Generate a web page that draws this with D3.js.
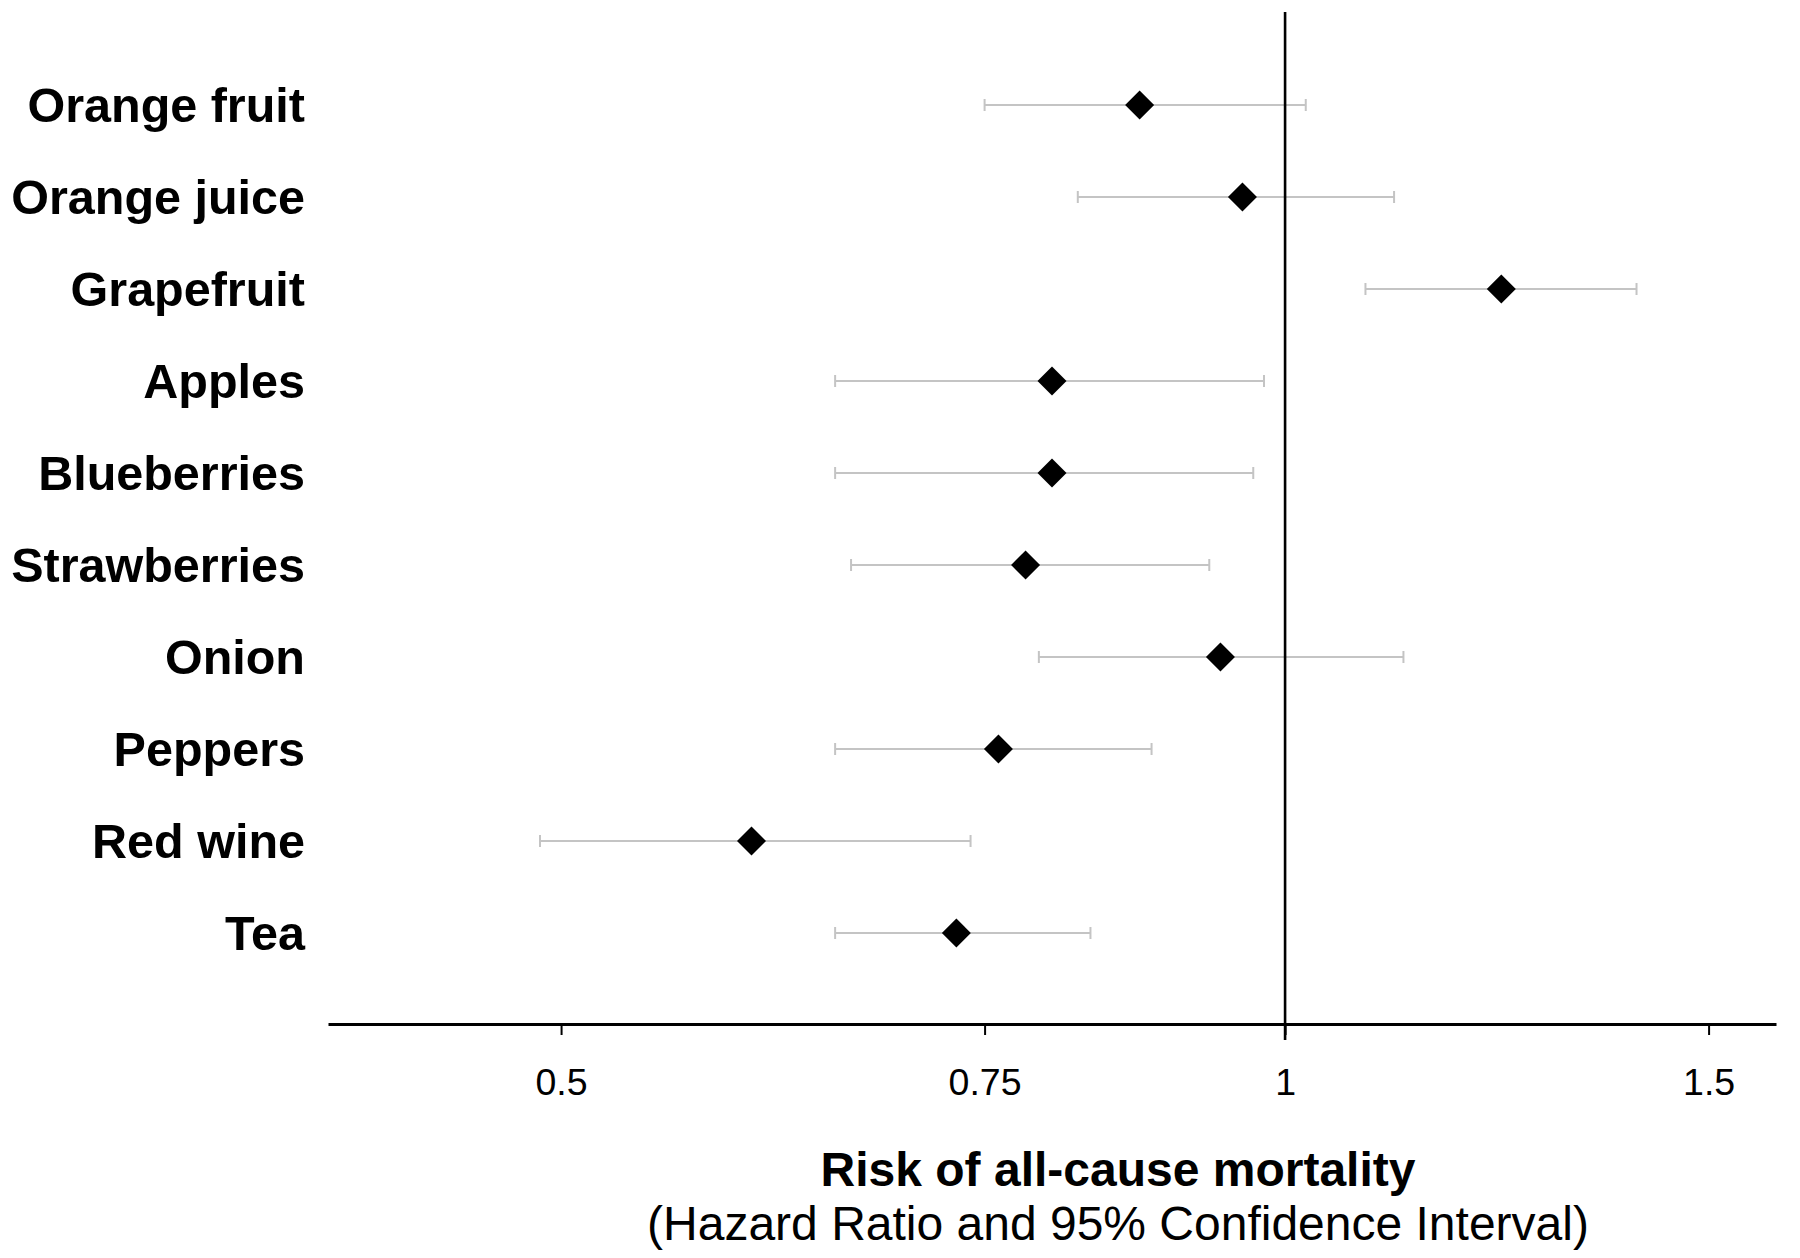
<!DOCTYPE html>
<html>
<head>
<meta charset="utf-8">
<script src="https://cdn.jsdelivr.net/npm/d3@7"></script>
<style>
  html, body { margin: 0; padding: 0; background: #fff; }
  svg { display: block; }
</style>
</head>
<body>
<script>
const categories = ["Orange fruit", "Orange juice", "Grapefruit", "Apples", "Blueberries",
                    "Strawberries", "Onion", "Peppers", "Red wine", "Tea"];
const hazardRatio = [0.87, 0.96, 1.23, 0.80, 0.80, 0.78, 0.94, 0.76, 0.60, 0.73];
const ciLower     = [0.75, 0.82, 1.08, 0.65, 0.65, 0.66, 0.79, 0.65, 0.49, 0.65];
const ciUpper     = [1.02, 1.11, 1.40, 0.98, 0.97, 0.93, 1.12, 0.88, 0.74, 0.83];
const tickValues  = [0.5, 0.75, 1, 1.5];
const tickLabels  = ["0.5", "0.75", "1", "1.5"];
const xTitle = "Risk of all-cause mortality";
const xSubtitle = "(Hazard Ratio and 95% Confidence Interval)";

const W = 1800, H = 1258;
const font = "'Liberation Sans', Arial, Helvetica, sans-serif";

const svg = d3.select("body").append("svg")
  .attr("width", W).attr("height", H)
  .style("font-family", font);

const x = d3.scaleLog().domain([0.4, 1.6]).range([328, 1776]);
const y = d3.scaleBand().domain(categories).range([59, 979]).paddingInner(0).paddingOuter(0);
const yc = d => y(d) + y.bandwidth() / 2;
const axisY = 1024;

const data = categories.map((c, i) => ({ c, hr: hazardRatio[i], lo: ciLower[i], hi: ciUpper[i] }));

// error bars
const bars = svg.append("g").attr("stroke", "#c4c4c4").attr("stroke-width", 2);
bars.selectAll("line.ci").data(data).join("line")
  .attr("x1", d => x(d.lo)).attr("x2", d => x(d.hi))
  .attr("y1", d => yc(d.c)).attr("y2", d => yc(d.c));
bars.selectAll("line.capl").data(data).join("line")
  .attr("x1", d => x(d.lo)).attr("x2", d => x(d.lo))
  .attr("y1", d => yc(d.c) - 6).attr("y2", d => yc(d.c) + 6);
bars.selectAll("line.caph").data(data).join("line")
  .attr("x1", d => x(d.hi)).attr("x2", d => x(d.hi))
  .attr("y1", d => yc(d.c) - 6).attr("y2", d => yc(d.c) + 6);

// reference line at HR = 1
svg.append("line")
  .attr("x1", x(1)).attr("x2", x(1))
  .attr("y1", 12).attr("y2", axisY + 16)
  .attr("stroke", "#000").attr("stroke-width", 2.6);

// diamonds
const sym = d3.symbol().type(d3.symbolSquare).size(420);
svg.append("g").selectAll("path").data(data).join("path")
  .attr("d", sym)
  .attr("fill", "#000")
  .attr("transform", d => `translate(${x(d.hr)},${yc(d.c)}) rotate(45)`);

// x axis
const xAxis = d3.axisBottom(x)
  .tickValues(tickValues)
  .tickFormat((d, i) => tickLabels[i])
  .tickSizeInner(11).tickSizeOuter(0).tickPadding(33);
const gx = svg.append("g").attr("transform", `translate(0,${axisY})`).call(xAxis);
gx.select(".domain").attr("stroke", "#000").attr("stroke-width", 3);
gx.selectAll(".tick line").attr("stroke", "#000").attr("stroke-width", 2);
gx.selectAll(".tick text")
  .attr("fill", "#000")
  .style("font-family", font)
  .style("font-size", "37.5px");

// category labels
svg.append("g").selectAll("text").data(data).join("text")
  .attr("x", 305).attr("y", d => yc(d.c))
  .attr("dy", "0.36em")
  .attr("text-anchor", "end")
  .style("font-size", "48.5px").style("font-weight", "bold")
  .text(d => d.c);

// axis titles
svg.append("text")
  .attr("x", 1118).attr("y", 1186)
  .attr("text-anchor", "middle")
  .style("font-size", "48px").style("font-weight", "bold")
  .text(xTitle);
svg.append("text")
  .attr("x", 1118).attr("y", 1240)
  .attr("text-anchor", "middle")
  .style("font-size", "48px")
  .text(xSubtitle);
</script>
</body>
</html>
